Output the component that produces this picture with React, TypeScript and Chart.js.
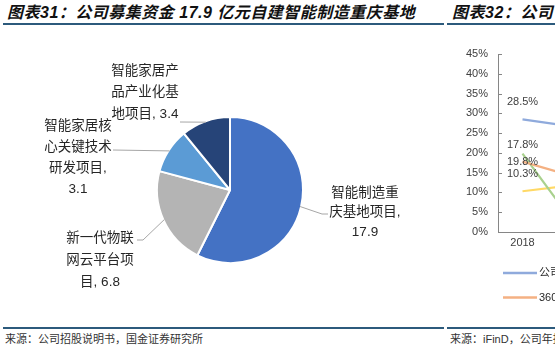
import React, { useEffect, useRef } from 'react';
import { Chart, registerables } from 'chart.js';

Chart.register(...registerables);

// ---------- Pie data (图表31) ----------
const pieCategories = ['智能制造重庆基地项目', '新一代物联网云平台项目', '智能家居核心关键技术研发项目', '智能家居产品产业化基地项目'];
const pieValues = [17.9, 6.8, 3.1, 3.4];
const pieLabelLines = [
  ['智能制造重', '庆基地项目,', '17.9'],
  ['新一代物联', '网云平台项', '目, 6.8'],
  ['智能家居核', '心关键技术', '研发项目,', '3.1'],
  ['智能家居产', '品产业化基', '地项目, 3.4'],
];

// ---------- Line data (图表32, mostly cropped) ----------
const yearLabels = ['2018', '2019', '2020', '2021'];
const seriesNames = ['公司', '360', '同业A', '同业B'];
const seriesCompany = [28.5, 26.7, 25.9, 24.8];
const series360 = [17.8, 14.2, 15.6, 16.3];
const seriesGreen = [19.8, 3.0, 4.4, 5.2];
const seriesYellow = [10.3, 11.8, 12.4, 13.1];
const firstPointLabels = ['28.5%', '17.8%', '19.8%', '10.3%'];

// ---------- styles ----------
const FONT = "'Liberation Sans', 'Noto Sans CJK SC', sans-serif";
const pieColors = ['#4472C4', '#B4B4B4', '#5B9BD5', '#264478'];
// label layout relative to pie centre (px)
const pieLabelLayout = [
  { x: 135, y: 3, lh: 19.5, elbow: [92, 24], end: [98, 24] },
  { x: -130, y: 48, lh: 22, elbow: [-87, 50], end: [-93, 50] },
  { x: -152, y: -64, lh: 21, elbow: [-117, -40], end: [-117, -40] },
  { x: -85, y: -119, lh: 21.5, elbow: [-50, -68], end: [-50, -68] },
];
const lineColors = ['#8FAADC', '#F4B183', '#A9D18E', '#FFD966'];
const labelOffsets = [-17, -17, 8, -17.5];

const pieLabelPlugin = {
  id: 'pieLabels',
  afterDatasetsDraw(chart: any) {
    const ctx = chart.ctx;
    const meta = chart.getDatasetMeta(0);
    ctx.save();
    meta.data.forEach((arc: any, i: number) => {
      const p = arc.getProps(['x', 'y', 'startAngle', 'endAngle', 'outerRadius'], true);
      const mid = (p.startAngle + p.endAngle) / 2;
      const r = p.outerRadius - 1;
      const sx = p.x + Math.cos(mid) * r;
      const sy = p.y + Math.sin(mid) * r;
      const L = pieLabelLayout[i];
      ctx.strokeStyle = '#A6A6A6';
      ctx.lineWidth = 1;
      ctx.beginPath();
      ctx.moveTo(sx, sy);
      ctx.lineTo(p.x + L.elbow[0], p.y + L.elbow[1]);
      ctx.lineTo(p.x + L.end[0], p.y + L.end[1]);
      ctx.stroke();
      ctx.fillStyle = '#262626';
      ctx.font = `13.5px ${FONT}`;
      ctx.textAlign = 'center';
      ctx.textBaseline = 'middle';
      pieLabelLines[i].forEach((line, k) => {
        ctx.fillText(line, p.x + L.x, p.y + L.y + k * L.lh);
      });
    });
    ctx.restore();
  },
};

const lineExtrasPlugin = {
  id: 'lineExtras',
  afterDatasetsDraw(chart: any) {
    const ctx = chart.ctx;
    const area = chart.chartArea;
    const y = chart.scales.y;
    ctx.save();
    // inside tick marks
    ctx.strokeStyle = '#868686';
    ctx.lineWidth = 1;
    y.ticks.forEach((t: any) => {
      const py = Math.round(y.getPixelForValue(t.value)) + 0.5;
      ctx.beginPath();
      ctx.moveTo(area.left, py);
      ctx.lineTo(area.left + 4, py);
      ctx.stroke();
    });
    // labels on first points
    ctx.fillStyle = '#404040';
    ctx.font = `11px ${FONT}`;
    ctx.textAlign = 'center';
    ctx.textBaseline = 'middle';
    chart.data.datasets.forEach((ds: any, i: number) => {
      const pt = chart.getDatasetMeta(i).data[0];
      ctx.fillText(firstPointLabels[i], pt.x, pt.y + labelOffsets[i]);
    });
    // legend (first column)
    [0, 1].forEach((i) => {
      const ly = 243 + i * 24.5;
      ctx.strokeStyle = lineColors[i];
      ctx.lineWidth = 2.5;
      ctx.beginPath();
      ctx.moveTo(63, ly);
      ctx.lineTo(97, ly);
      ctx.stroke();
      ctx.fillStyle = '#262626';
      ctx.textAlign = 'left';
      ctx.fillText(seriesNames[i], 99, ly);
    });
    ctx.restore();
  },
};

export default function App() {
  const pieRef = useRef<HTMLCanvasElement>(null);
  const lineRef = useRef<HTMLCanvasElement>(null);

  useEffect(() => {
    const pie = new Chart(pieRef.current!, {
      type: 'pie',
      data: {
        labels: pieCategories,
        datasets: [
          {
            data: pieValues,
            backgroundColor: pieColors,
            borderColor: '#ffffff',
            borderWidth: 2,
            radius: 73,
          } as any,
        ],
      },
      options: {
        responsive: false,
        animation: false,
        layout: { padding: { left: 20, right: 0, top: 30, bottom: 0 } },
        plugins: { legend: { display: false }, tooltip: { enabled: false } },
      },
      plugins: [pieLabelPlugin],
    });

    const tickFont = { family: FONT, size: 11 };
    const line = new Chart(lineRef.current!, {
      type: 'line',
      data: {
        labels: yearLabels,
        datasets: [seriesCompany, series360, seriesGreen, seriesYellow].map((d, i) => ({
          label: seriesNames[i],
          data: d,
          borderColor: lineColors[i],
          backgroundColor: lineColors[i],
          borderWidth: 2.25,
          pointRadius: 0,
          tension: 0,
        })),
      },
      options: {
        responsive: false,
        animation: false,
        layout: { padding: { left: 0, right: 46, top: 24, bottom: 68 } },
        plugins: { legend: { display: false }, tooltip: { enabled: false } },
        scales: {
          x: {
            offset: true,
            grid: { display: false, drawTicks: false },
            border: { display: true, color: '#868686', width: 1 },
            ticks: { padding: 4, font: tickFont, color: '#404040', maxRotation: 0 },
            afterFit: (s: any) => {
              s.height = 20;
            },
          },
          y: {
            min: 0,
            max: 45,
            grid: { display: false, drawTicks: false },
            border: { display: true, color: '#868686', width: 1 },
            ticks: { stepSize: 5, padding: 10, font: tickFont, color: '#404040', callback: (v: any) => v + '%' },
            afterFit: (s: any) => {
              s.width = 58;
            },
          },
        },
      },
      plugins: [lineExtrasPlugin],
    });

    return () => {
      pie.destroy();
      line.destroy();
    };
  }, []);

  const abs = (o: any) => ({ position: 'absolute' as const, ...o });
  const titleStyle = {
    fontFamily: FONT,
    fontSize: 16,
    fontWeight: 'bold' as const,
    fontStyle: 'italic' as const,
    lineHeight: '18px',
    whiteSpace: 'nowrap' as const,
    color: '#111',
  };
  const footStyle = {
    fontFamily: FONT,
    fontSize: 11,
    lineHeight: '12px',
    whiteSpace: 'nowrap' as const,
    color: '#333',
  };

  return (
    <div style={abs({ left: 0, top: 0, width: 555, height: 353, overflow: 'hidden', background: '#fff' })}>
      <div style={abs({ left: 7, top: 4, letterSpacing: '0.5px', ...titleStyle })}>图表31：公司募集资金 17.9 亿元自建智能制造重庆基地</div>
      <div style={abs({ left: 452, top: 4, letterSpacing: '0.5px', ...titleStyle })}>图表32：公司</div>
      <div style={abs({ left: 3, top: 23, width: 441, height: 2, background: '#2C5A7C' })} />
      <div style={abs({ left: 447, top: 23, width: 110, height: 2, background: '#2C5A7C' })} />
      <canvas ref={pieRef} width={440} height={290} style={abs({ left: 0, top: 30 })} />
      <canvas ref={lineRef} width={300} height={290} style={abs({ left: 440, top: 30 })} />
      <div style={abs({ left: 3, top: 327, width: 441, height: 2, background: '#2C5A7C' })} />
      <div style={abs({ left: 447, top: 327, width: 110, height: 2, background: '#2C5A7C' })} />
      <div style={abs({ left: 5, top: 333, ...footStyle })}>来源：公司招股说明书，国金证券研究所</div>
      <div style={abs({ left: 450, top: 333, ...footStyle })}>来源：iFinD，公司年报，国金证券研究所</div>
    </div>
  );
}
